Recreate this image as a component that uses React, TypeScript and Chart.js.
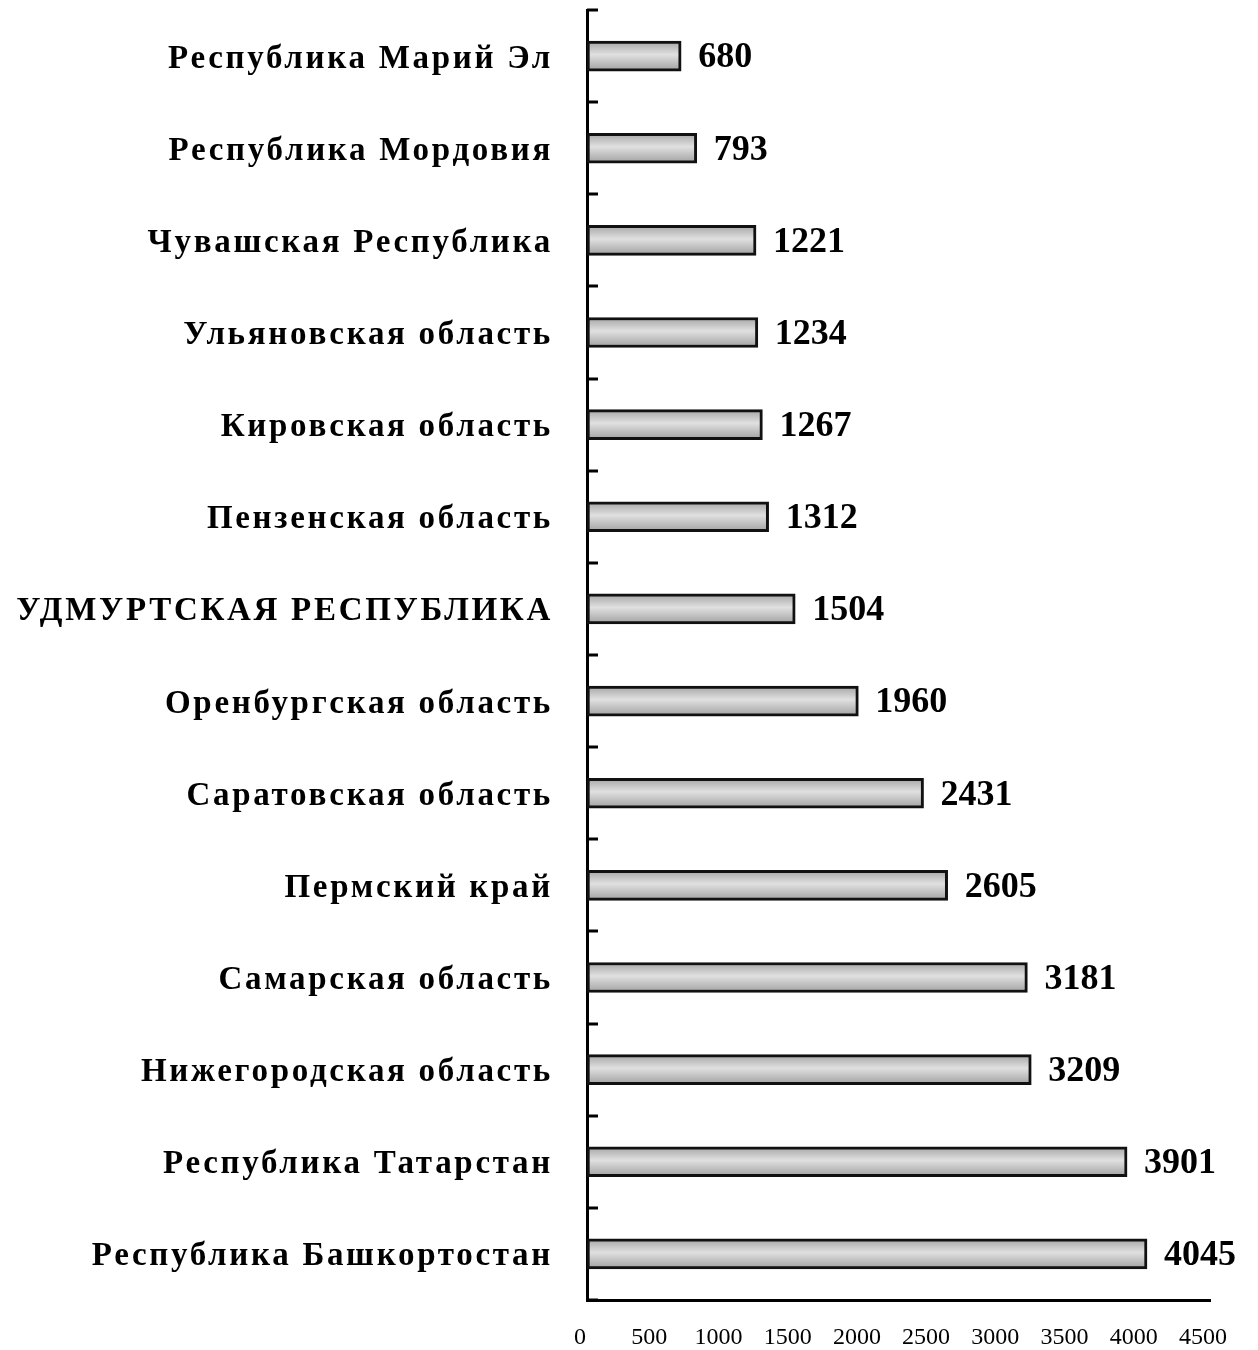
import React, { useEffect, useRef } from "react";
import { Chart, registerables } from "chart.js";

Chart.register(...registerables);

const categories = [
  "Республика Марий Эл",
  "Республика Мордовия",
  "Чувашская Республика",
  "Ульяновская область",
  "Кировская область",
  "Пензенская область",
  "УДМУРТСКАЯ РЕСПУБЛИКА",
  "Оренбургская область",
  "Саратовская область",
  "Пермский край",
  "Самарская область",
  "Нижегородская область",
  "Республика Татарстан",
  "Республика Башкортостан",
];

const values = [680, 793, 1221, 1234, 1267, 1312, 1504, 1960, 2431, 2605, 3181, 3209, 3901, 4045];

const xMin = 0;
const xMax = 4500;
const xStep = 500;

const SERIF = "'Liberation Serif', 'Times New Roman', serif";

const spacing = {
  id: "spacing",
  beforeDraw(chart: any) {
    chart.ctx.letterSpacing = "2.7px";
  },
  beforeDatasetsDraw(chart: any) {
    chart.ctx.letterSpacing = "0px";
  },
};

const innerTicks = {
  id: "innerTicks",
  afterDraw(chart: any) {
    const { ctx, scales } = chart;
    const y = scales.y;
    const x0 = chart.chartArea.left;
    ctx.save();
    ctx.strokeStyle = "#000";
    ctx.lineWidth = 3;
    for (let i = 0; i <= categories.length; i++) {
      const py = Math.round(y.getPixelForValue(i - 0.5));
      ctx.beginPath();
      ctx.moveTo(x0, py);
      ctx.lineTo(x0 + 11, py);
      ctx.stroke();
    }
    ctx.restore();
  },
};

const valueLabels = {
  id: "valueLabels",
  afterDatasetsDraw(chart: any) {
    const { ctx } = chart;
    const meta = chart.getDatasetMeta(0);
    ctx.save();
    ctx.letterSpacing = "0px";
    ctx.fillStyle = "#000";
    ctx.font = `bold 36px ${SERIF}`;
    ctx.textAlign = "left";
    ctx.textBaseline = "middle";
    meta.data.forEach((bar: any, i: number) => {
      ctx.fillText(String(values[i]), bar.x + 17, bar.y + 2);
    });
    ctx.restore();
  },
};

export default function App() {
  const ref = useRef<HTMLCanvasElement | null>(null);

  useEffect(() => {
    document.body.style.margin = "0";
    const canvas = ref.current;
    if (!canvas) return;
    const chart = new Chart(canvas, {
      type: "bar",
      data: {
        labels: categories,
        datasets: [
          {
            data: values,
            borderColor: "#111",
            borderWidth: 3,
            borderSkipped: false,
            barThickness: 30,
            backgroundColor: (context: any) => {
              const c = context.chart;
              const ys = c.scales && c.scales.y;
              if (!c.chartArea || !ys || context.dataIndex === undefined) return "#c8c8c8";
              const py = ys.getPixelForValue(context.dataIndex);
              const g = c.ctx.createLinearGradient(0, py - 15, 0, py + 15);
              g.addColorStop(0, "#a4a4a4");
              g.addColorStop(0.45, "#e0e0e0");
              g.addColorStop(1, "#a0a0a0");
              return g;
            },
          },
        ],
      },
      options: {
        indexAxis: "y",
        responsive: false,
        animation: false,
        layout: { padding: { top: 10, right: 48, left: 0, bottom: 0 } },
        plugins: {
          legend: { display: false },
          tooltip: { enabled: false },
        },
        scales: {
          x: {
            min: xMin,
            max: xMax,
            grid: { display: false, drawTicks: false },
            border: { display: true, color: "#000", width: 3 },
            ticks: {
              z: 1,
              stepSize: xStep,
              color: "#000",
              font: { family: SERIF, size: 24 },
              padding: 23,
              labelOffset: -7,
              maxRotation: 0,
              autoSkip: false,
              callback: (v: any) => String(v),
            },
            afterFit: (scale: any) => {
              scale.height = 50;
              scale.paddingLeft = 0;
              scale.paddingRight = 0;
            },
          },
          y: {
            grid: { display: false, drawTicks: false },
            border: { display: true, color: "#000", width: 3 },
            ticks: {
              color: "#000",
              font: { family: SERIF, size: 33, weight: "bold" },
              padding: 34,
              labelOffset: 3,
              autoSkip: false,
            },
            afterFit: (scale: any) => {
              scale.width = 587;
              scale.paddingTop = 0;
              scale.paddingBottom = 0;
            },
          },
        },
      },
      plugins: [spacing, innerTicks, valueLabels],
    });
    return () => chart.destroy();
  }, []);

  return (
    <div style={{ width: 1258, height: 1350, background: "#fff" }}>
      <canvas ref={ref} width={1258} height={1350} />
    </div>
  );
}
